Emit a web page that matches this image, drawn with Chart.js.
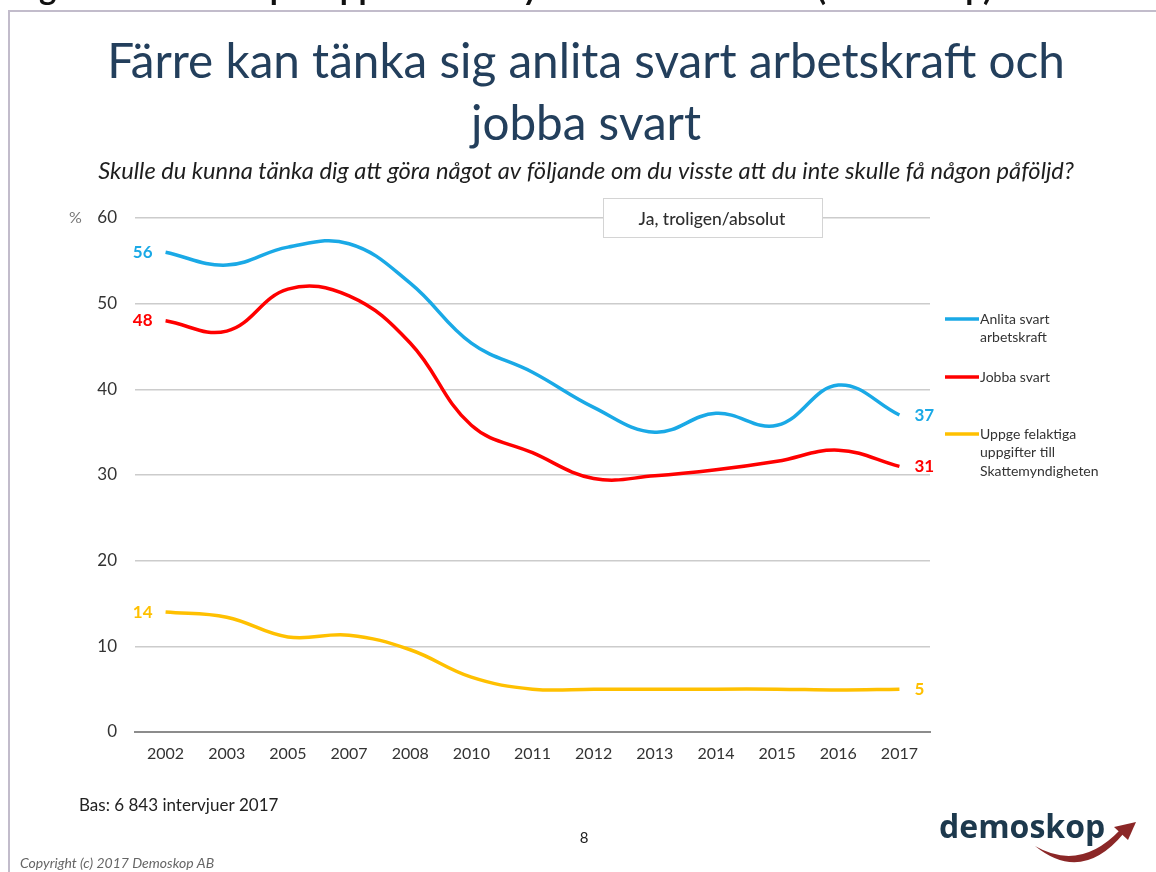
<!DOCTYPE html>
<html>

<head>
    <title>Svartarbete 2002-2017</title>
    <script src="https://cdn.jsdelivr.net/npm/chart.js"></script>
    <style>
        body { margin: 0; background: #fff; }
        #wrap { width: 1156px; height: 872px; }
    </style>
</head>

<body>
    <div id="wrap"><canvas id="chart" width="1156" height="872"></canvas></div>
    <script>
        // survey years and share answering "Ja, troligen/absolut" (%)
        const years = ['2002', '2003', '2005', '2007', '2008', '2010', '2011', '2012', '2013', '2014', '2015', '2016', '2017'];
        const anlita = [56, 54.5, 56.6, 57, 52.4, 45.4, 42, 37.9, 35, 37.2, 35.8, 40.5, 37];
        const jobba = [48, 46.8, 51.7, 50.9, 45.4, 35.8, 32.6, 29.6, 29.9, 30.6, 31.6, 32.9, 31];
        const uppge = [14, 13.4, 11.1, 11.3, 9.6, 6.4, 5, 5, 5, 5, 5, 4.9, 5];
        const yTicks = [0, 10, 20, 30, 40, 50, 60];

        const seriesNames = [['Anlita svart', 'arbetskraft'], ['Jobba svart'], ['Uppge felaktiga', 'uppgifter till', 'Skattemyndigheten']];
        const seriesColors = ['#1aa9e6', '#ff0000', '#ffc000'];
        const endLabels = [['56', '37'], ['48', '31'], ['14', '5']];

        const FONT = 'Lato, "Open Sans", sans-serif';

        // shrink/grow a font size so the text fills a given width
        function fitFont(ctx, text, width, style, size) {
            ctx.font = style + ' ' + size + 'px ' + FONT;
            const w = ctx.measureText(text).width;
            const s = size * width / w;
            ctx.font = style + ' ' + s.toFixed(2) + 'px ' + FONT;
        }

        const decorations = {
            id: 'decorations',
            beforeDraw(chart) {
                const ctx = chart.ctx;
                ctx.save();
                ctx.fillStyle = '#fff';
                ctx.fillRect(0, 0, chart.width, chart.height);

                // header line, mostly cut off at the top
                ctx.fillStyle = '#111';
                ctx.textBaseline = 'alphabetic';
                ctx.textAlign = 'left';
                fitFont(ctx, 'Figur 1. Demoskops rapport – Attityder till svartarbete (Demoskop)', 980, 'bold', 22);
                ctx.fillText('Figur 1. Demoskops rapport – Attityder till svartarbete (Demoskop)', 12, 0);

                // slide frame
                ctx.strokeStyle = '#c2bccb';
                ctx.lineWidth = 2;
                ctx.beginPath();
                ctx.moveTo(9, 872);
                ctx.lineTo(9, 11);
                ctx.lineTo(1156, 11);
                ctx.stroke();
                ctx.restore();
            },
            afterDraw(chart) {
                const ctx = chart.ctx;
                ctx.save();

                // title
                ctx.fillStyle = '#233f5c';
                ctx.textAlign = 'center';
                ctx.textBaseline = 'alphabetic';
                fitFont(ctx, 'Färre kan tänka sig anlita svart arbetskraft och', 958, 'normal', 46);
                ctx.fillText('Färre kan tänka sig anlita svart arbetskraft och', 586, 78);
                ctx.fillText('jobba svart', 586, 140);

                // question
                ctx.fillStyle = '#1e1e1e';
                fitFont(ctx, 'Skulle du kunna tänka dig att göra något av följande om du visste att du inte skulle få någon påföljd?', 976, 'italic', 20);
                ctx.fillText('Skulle du kunna tänka dig att göra något av följande om du visste att du inte skulle få någon påföljd?', 586, 179);

                // answer box
                ctx.fillStyle = '#fff';
                ctx.fillRect(603, 198, 219, 39);
                ctx.strokeStyle = '#d4d4d4';
                ctx.lineWidth = 1;
                ctx.strokeRect(603.5, 198.5, 219, 39);
                ctx.fillStyle = '#2e2e2e';
                ctx.textBaseline = 'middle';
                ctx.font = '500 17.5px ' + FONT;
                ctx.fillText('Ja, troligen/absolut', 712, 219);

                // unit
                ctx.fillStyle = '#777';
                ctx.textAlign = 'left';
                ctx.font = '16px ' + FONT;
                ctx.fillText('%', 69, 218);

                // legend
                const legendY = [319, 377, 434];
                seriesNames.forEach((lines, i) => {
                    ctx.strokeStyle = seriesColors[i];
                    ctx.lineWidth = 3.5;
                    ctx.beginPath();
                    ctx.moveTo(945, legendY[i]);
                    ctx.lineTo(979, legendY[i]);
                    ctx.stroke();
                    ctx.fillStyle = '#333';
                    ctx.font = '14px ' + FONT;
                    lines.forEach((t, j) => ctx.fillText(t, 980, legendY[i] + j * 18.5));
                });

                // first and last values
                ctx.font = 'bold 17px ' + FONT;
                chart.data.datasets.forEach((ds, i) => {
                    const pts = chart.getDatasetMeta(i).data;
                    const a = pts[0], b = pts[pts.length - 1];
                    ctx.fillStyle = seriesColors[i];
                    ctx.textAlign = 'right';
                    ctx.fillText(endLabels[i][0], a.x - 13, a.y);
                    ctx.textAlign = 'left';
                    ctx.fillText(endLabels[i][1], b.x + 15, b.y);
                });

                // footer
                ctx.fillStyle = '#222';
                ctx.textAlign = 'left';
                ctx.font = '17px ' + FONT;
                ctx.fillText('Bas: 6 843 intervjuer 2017', 79, 806);
                ctx.textAlign = 'center';
                ctx.font = '15px ' + FONT;
                ctx.fillText('8', 584, 838);
                ctx.textAlign = 'left';
                ctx.fillStyle = '#666';
                ctx.font = 'italic 14px ' + FONT;
                ctx.fillText('Copyright (c) 2017 Demoskop AB', 20, 863);

                // logo
                ctx.fillStyle = '#1d394d';
                ctx.font = 'bold 32px "Open Sans", sans-serif';
                ctx.textBaseline = 'alphabetic';
                ctx.fillText('demoskop', 939, 838);
                ctx.fillStyle = '#8b2727';
                ctx.beginPath();
                ctx.moveTo(1035, 846);
                ctx.quadraticCurveTo(1082, 884, 1124, 833);
                ctx.lineTo(1120, 830);
                ctx.quadraticCurveTo(1080, 872, 1035, 846);
                ctx.fill();
                ctx.beginPath();
                ctx.moveTo(1136, 822);
                ctx.lineTo(1114, 827);
                ctx.lineTo(1128, 840);
                ctx.closePath();
                ctx.fill();

                ctx.restore();
            }
        };

        new Chart(document.getElementById('chart'), {
            type: 'line',
            data: {
                labels: years,
                datasets: [
                    { label: seriesNames[0].join(' '), data: anlita, borderColor: seriesColors[0] },
                    { label: seriesNames[1].join(' '), data: jobba, borderColor: seriesColors[1] },
                    { label: seriesNames[2].join(' '), data: uppge, borderColor: seriesColors[2] }
                ].map(d => Object.assign(d, { borderWidth: 3.5, pointRadius: 0, tension: 0.4, fill: false }))
            },
            options: {
                responsive: false,
                animation: false,
                layout: { padding: { left: 0, right: 226, top: 218, bottom: 100 } },
                plugins: { legend: { display: false }, tooltip: { enabled: false } },
                scales: {
                    x: {
                        offset: true,
                        grid: { display: false, drawTicks: false },
                        border: { color: '#8c8c8c', width: 2 },
                        ticks: { color: '#333', font: { family: FONT, size: 16 }, padding: 12 },
                        afterFit: s => { s.height = 40; }
                    },
                    y: {
                        min: 0,
                        max: 60,
                        afterBuildTicks: s => { s.ticks = yTicks.map(v => ({ value: v })); },
                        grid: { color: '#cccccc', lineWidth: 1.5, drawTicks: false },
                        border: { display: false },
                        ticks: { color: '#333', font: { family: FONT, size: 17 }, padding: 18 },
                        afterFit: s => { s.width = 135; }
                    }
                }
            },
            plugins: [decorations]
        });
    </script>
</body>

</html>
